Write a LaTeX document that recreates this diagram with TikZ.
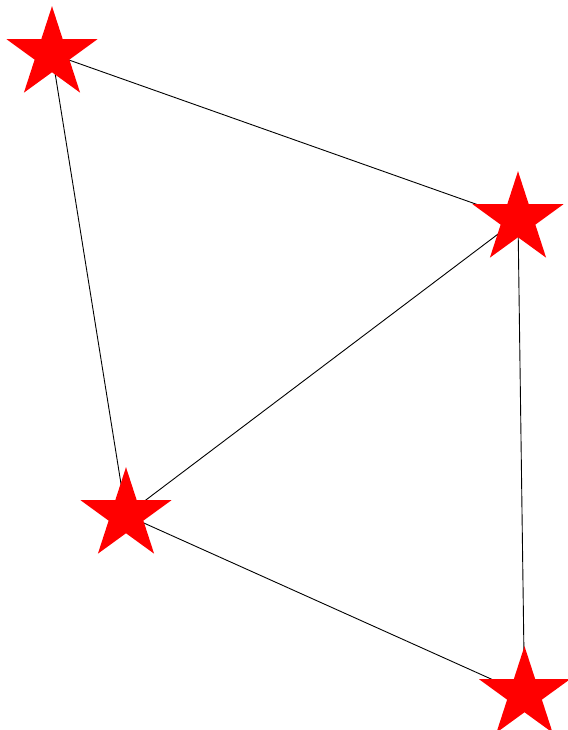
\documentclass[tikz,border=0pt]{standalone}
\usetikzlibrary{shapes.geometric,backgrounds}
\begin{document}
\begin{tikzpicture}[x=1pt,y=-1pt,
  redstar/.style={star,star points=5,star point ratio=2.618,minimum size=95.6pt,inner sep=0pt,fill=red,draw=none},
  edge/.style={draw=black,line width=0.9pt}]
\useasboundingbox (0,0) rectangle (567,730);
\node[redstar] (a) at (52,54) {};
\node[redstar] (b) at (518,219) {};
\node[redstar] (c) at (126,515) {};
\node[redstar] (d) at (524.5,694) {};
\begin{scope}[on background layer]
\draw[edge] (a.center) -- (b.center);
\draw[edge] (a.center) -- (c.center);
\draw[edge] (b.center) -- (c.center);
\draw[edge] (b.center) -- (d.center);
\draw[edge] (c.center) -- (d.center);
\end{scope}
\end{tikzpicture}
\end{document}
